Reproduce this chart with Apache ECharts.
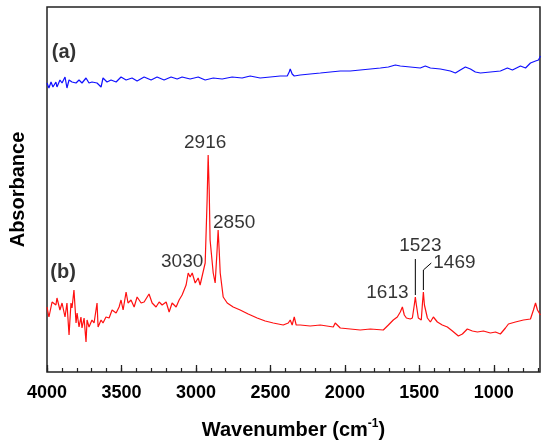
<!DOCTYPE html>
<html>
<head>
    <meta charset="utf-8">
    <title>FTIR</title>
    <script src="https://cdn.jsdelivr.net/npm/echarts@6/dist/echarts.min.js"></script>
    <style>
        html, body { margin: 0; padding: 0; background: #fff; }
    </style>
</head>
<body>
    <div id="main" style="width: 550px;height:442px;"></div>
    <script type="text/javascript">
        // wavenumber (cm-1) / absorbance (a.u.)
        var waveA = [4000, 3987, 3973, 3960, 3940, 3933, 3913, 3899, 3879, 3866, 3852, 3832, 3805, 3785, 3765, 3738, 3718, 3698, 3664, 3637,
            3624, 3597, 3570, 3536, 3503, 3469, 3429, 3395, 3348, 3301, 3261, 3214, 3167, 3126, 3093, 3039, 2985, 2938, 2884, 2824,
            2757, 2690, 2636, 2569, 2501, 2434, 2387, 2374, 2367, 2354, 2340, 2300, 2233, 2165, 2098, 2031, 1964, 1897, 1829, 1762,
            1708, 1661, 1628, 1561, 1494, 1460, 1426, 1359, 1292, 1258, 1225, 1191, 1157, 1124, 1090, 1023, 956, 909, 875, 821,
            787, 754, 720, 700, 687];
        var absA = [2.89, 2.84, 2.90, 2.85, 2.90, 2.85, 2.92, 2.89, 2.95, 2.84, 2.92, 2.90, 2.89, 2.92, 2.89, 2.94, 2.89, 2.90, 2.89, 2.85,
            2.94, 2.90, 2.92, 2.90, 2.95, 2.92, 2.94, 2.91, 2.95, 2.92, 2.95, 2.92, 2.95, 2.93, 2.95, 2.93, 2.95, 2.92, 2.94, 2.93,
            2.95, 2.94, 2.96, 2.94, 2.95, 2.96, 2.96, 3.00, 3.03, 2.98, 2.96, 2.97, 2.98, 2.99, 3.00, 3.01, 3.01, 3.02, 3.03, 3.04,
            3.05, 3.07, 3.06, 3.05, 3.04, 3.06, 3.04, 3.03, 3.01, 2.99, 3.02, 3.05, 3.03, 3.00, 2.99, 3.00, 3.01, 3.04, 3.02, 3.06,
            3.04, 3.09, 3.11, 3.12, 3.16];

        var waveB = [4000, 3987, 3966, 3940, 3933, 3913, 3899, 3879, 3866, 3852, 3839, 3832, 3819, 3805, 3798, 3785, 3772, 3765, 3751, 3738,
            3731, 3718, 3698, 3684, 3664, 3657, 3637, 3624, 3604, 3583, 3563, 3536, 3516, 3503, 3489, 3469, 3456, 3436, 3415, 3395,
            3368, 3348, 3315, 3294, 3268, 3247, 3227, 3200, 3180, 3160, 3133, 3113, 3093, 3086, 3066, 3052, 3039, 3025, 3005, 2985,
            2972, 2952, 2938, 2925, 2918, 2911, 2905, 2884, 2871, 2858, 2851, 2844, 2837, 2817, 2790, 2750, 2703, 2649, 2589, 2535,
            2481, 2414, 2380, 2367, 2354, 2340, 2327, 2300, 2233, 2165, 2078, 2065, 2031, 1964, 1897, 1829, 1742, 1708, 1675, 1648,
            1628, 1614, 1601, 1587, 1561, 1547, 1534, 1527, 1520, 1507, 1487, 1480, 1473, 1466, 1446, 1426, 1406, 1379, 1346, 1312,
            1278, 1238, 1211, 1178, 1144, 1110, 1070, 1023, 989, 956, 922, 902, 855, 801, 754, 734, 720, 707, 687];
        var absB = [0.65, 0.55, 0.70, 0.67, 0.74, 0.62, 0.69, 0.55, 0.69, 0.37, 0.69, 0.64, 0.82, 0.49, 0.59, 0.45, 0.55, 0.44, 0.54, 0.30,
            0.52, 0.45, 0.52, 0.49, 0.69, 0.45, 0.52, 0.49, 0.55, 0.54, 0.62, 0.59, 0.65, 0.72, 0.62, 0.80, 0.69, 0.72, 0.65, 0.75,
            0.69, 0.70, 0.78, 0.69, 0.65, 0.70, 0.67, 0.70, 0.60, 0.69, 0.65, 0.72, 0.77, 0.79, 0.87, 0.99, 0.95, 0.99, 0.89, 0.94,
            0.87, 1.00, 1.09, 1.72, 2.17, 1.82, 1.32, 0.99, 0.89, 1.22, 1.42, 1.22, 0.99, 0.75, 0.69, 0.65, 0.62, 0.58, 0.54, 0.51,
            0.49, 0.47, 0.49, 0.52, 0.47, 0.55, 0.47, 0.47, 0.46, 0.47, 0.45, 0.49, 0.44, 0.43, 0.42, 0.43, 0.42, 0.47, 0.52, 0.55,
            0.60, 0.65, 0.57, 0.54, 0.53, 0.54, 0.67, 0.75, 0.67, 0.54, 0.52, 0.67, 0.80, 0.67, 0.54, 0.50, 0.55, 0.50, 0.47, 0.45,
            0.41, 0.36, 0.38, 0.43, 0.41, 0.40, 0.41, 0.39, 0.40, 0.38, 0.44, 0.48, 0.50, 0.52, 0.53, 0.62, 0.69, 0.62, 0.57];

        var majorTicks = [4000, 3500, 3000, 2500, 2000, 1500, 1000];
        var minorTicks = [];
        for (var t = 4000; t >= 700; t -= 100) minorTicks.push(t);

        // peak labels: text, wavenumber, absorbance at peak top
        var peakNames = ['3030', '2916', '2850', '1613', '1523', '1469'];
        var peakWave = [3039, 2918, 2851, 1614, 1527, 1473];
        var peakAbs = [0.99, 2.17, 1.42, 0.65, 0.75, 0.80];

        // label offsets in px from the peak top
        var peakOffset = {
            '3030': [-8, -11], '2916': [-3, -12], '2850': [16, -7],
            '1613': [-15, -14], '1523': [5, -51], '1469': [31, -29]
        };

        // leader lines (data coords)
        var lead1523 = [[1527, 0.77], [1527, 1.13]];
        var lead1469 = [[1473, 0.82], [1473, 1.02], [1420, 1.09]];

        function pairs(xs, ys) {
            return xs.map(function (x, i) { return [x, ys[i]]; });
        }

        var fontFam = 'Arial, "Liberation Sans", sans-serif';
        var myChart = echarts.init(document.getElementById('main'));

        var peakData = peakNames.map(function (n, i) {
            return {
                name: n,
                value: [peakWave[i], peakAbs[i]],
                label: { offset: peakOffset[n] }
            };
        });

        var option = {
            animation: false,
            grid: {
                left: 47, right: 10, top: 7, bottom: 70,
                outerBoundsMode: 'none', containLabel: false,
                show: true, borderColor: '#222', borderWidth: 1.5,
                backgroundColor: 'transparent'
            },
            xAxis: [{
                type: 'value', inverse: true, min: 690, max: 4000,
                position: 'bottom',
                axisLine: { show: false },
                splitLine: { show: false },
                axisTick: { show: true, inside: true, length: 7, customValues: majorTicks, lineStyle: { color: '#222', width: 1.3 } },
                axisLabel: {
                    customValues: majorTicks, margin: 12,
                    formatter: function (v) { return String(v); },
                    color: '#000', fontSize: 18, fontWeight: 'bold', fontFamily: fontFam
                },
                name: '{t|Wavenumber (cm}{s|-1}{t|)}',
                nameLocation: 'middle', nameGap: 46,
                nameTextStyle: {
                    rich: {
                        t: { fontSize: 20, fontWeight: 'bold', fontFamily: fontFam, color: '#000' },
                        s: { fontSize: 12, fontWeight: 'bold', fontFamily: fontFam, color: '#000', padding: [0, 0, 12, 0] }
                    }
                }
            }, {
                type: 'value', inverse: true, min: 690, max: 4000,
                position: 'bottom',
                axisLine: { show: false },
                splitLine: { show: false },
                axisLabel: { show: false },
                axisTick: { show: true, inside: true, length: 4, customValues: minorTicks, lineStyle: { color: '#222', width: 1.2 } }
            }],
            yAxis: {
                type: 'value', min: 0, max: 3.65,
                axisLine: { show: false },
                axisTick: { show: false },
                axisLabel: { show: false },
                splitLine: { show: false },
                name: 'Absorbance', nameLocation: 'middle', nameGap: 19,
                nameTextStyle: { fontSize: 20, fontWeight: 'bold', fontFamily: fontFam, color: '#000' }
            },
            series: [{
                name: '(a)', type: 'line', data: pairs(waveA, absA),
                showSymbol: false, lineStyle: { color: '#1010ff', width: 1.2 }
            }, {
                name: '(b)', type: 'line', data: pairs(waveB, absB),
                showSymbol: false, lineStyle: { color: '#ff1010', width: 1.2 }
            }, {
                type: 'line', data: lead1523, showSymbol: false,
                lineStyle: { color: '#000', width: 1 }
            }, {
                type: 'line', data: lead1469, showSymbol: false,
                lineStyle: { color: '#000', width: 1 }
            }, {
                type: 'scatter', symbolSize: 0, data: peakData,
                label: {
                    show: true, position: 'inside', formatter: '{b}',
                    color: '#000', fontSize: 19, fontFamily: fontFam
                }
            }, {
                type: 'scatter', symbolSize: 0,
                data: [{ name: '(a)', value: [3886, 3.20] }, { name: '(b)', value: [3892, 1.00] }],
                label: {
                    show: true, position: 'inside', formatter: '{b}',
                    color: '#000', fontSize: 20, fontWeight: 'bold', fontFamily: fontFam
                }
            }]
        };

        myChart.setOption(option);
    </script>
</body>
</html>
